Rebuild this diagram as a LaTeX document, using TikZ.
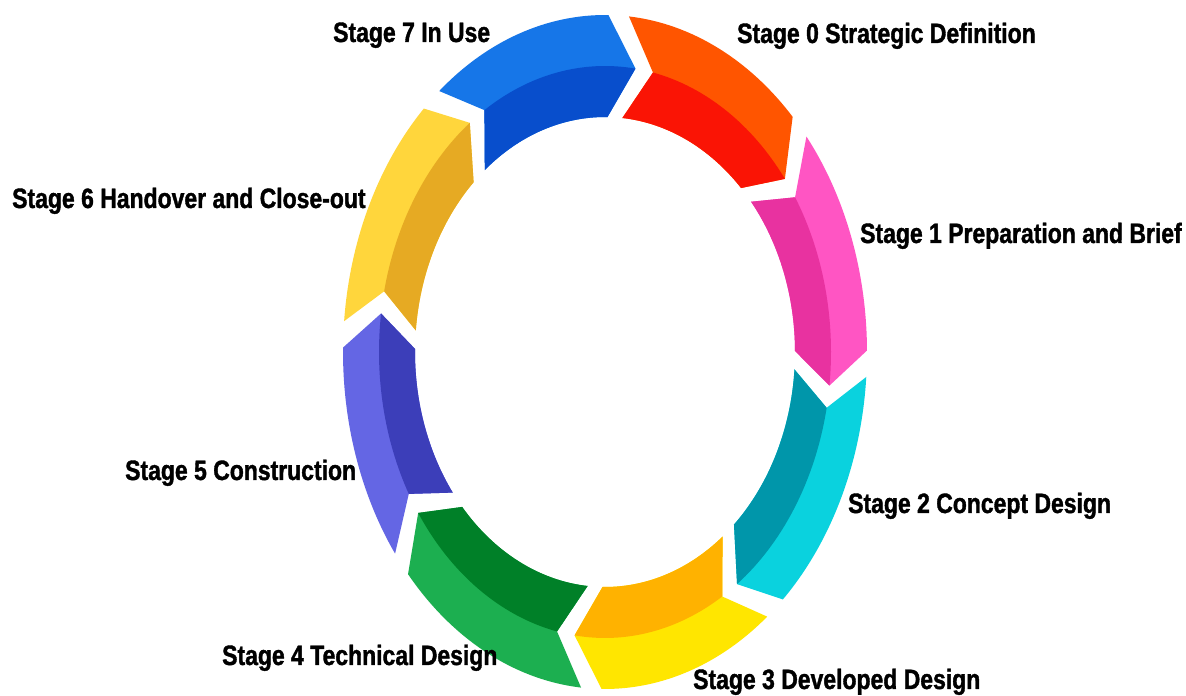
\documentclass[tikz,border=0pt]{standalone}
\usepackage{fontspec}
\setmainfont[FakeStretch=0.82, BoldFeatures={FakeBold=1.3}]{Liberation Sans}
\definecolor{blueL}{RGB}{22,118,232}
\definecolor{blueD}{RGB}{8,78,204}
\definecolor{redL}{RGB}{255,85,0}
\definecolor{redD}{RGB}{250,20,5}
\definecolor{pinkL}{RGB}{255,85,195}
\definecolor{pinkD}{RGB}{232,50,160}
\definecolor{cyanL}{RGB}{10,210,222}
\definecolor{cyanD}{RGB}{0,150,170}
\definecolor{yelL}{RGB}{255,230,0}
\definecolor{yelD}{RGB}{255,178,0}
\definecolor{greenL}{RGB}{28,175,80}
\definecolor{greenD}{RGB}{0,128,40}
\definecolor{purL}{RGB}{100,102,228}
\definecolor{purD}{RGB}{60,62,185}
\definecolor{goldL}{RGB}{255,214,60}
\definecolor{goldD}{RGB}{230,170,35}
\def\rcx{605}\def\rcy{344}
\newcommand\ringseg[4]{%
 \pgfmathsetmacro\segTa{#1-2.25+7}%
 \pgfmathsetmacro\segTn{#1-2.25}%
 \pgfmathsetmacro\segHc{#2+2.25+7}%
 \pgfmathsetmacro\segHt{#2+2.25}%
 \fill[#3] ({\rcx+262*cos(\segTa)},{\rcy+337*sin(\segTa)})
   arc[start angle=\segTa, end angle=\segHc, x radius=262, y radius=337]
   -- ({\rcx+226*cos(\segHt)},{\rcy+286*sin(\segHt)})
   -- ({\rcx+190*cos(\segHc)},{\rcy+235*sin(\segHc)})
   arc[start angle=\segHc, end angle=\segTa, x radius=190, y radius=235]
   -- ({\rcx+226*cos(\segTn)},{\rcy+286*sin(\segTn)}) -- cycle;
 \fill[#4] ({\rcx+226*cos(\segTn)},{\rcy+286*sin(\segTn)})
   arc[start angle=\segTn, end angle=\segHt, x radius=226, y radius=286]
   -- ({\rcx+190*cos(\segHc)},{\rcy+235*sin(\segHc)})
   arc[start angle=\segHc, end angle=\segTa, x radius=190, y radius=235]
   -- cycle;
}
\begin{document}
\begin{tikzpicture}[x=1pt,y=1pt,
  lbl/.style={anchor=base west, inner sep=0pt, font=\fontsize{28}{30}\selectfont\bfseries}]
\useasboundingbox (0,0) rectangle (1186,696);
\fill[white] (0,0) rectangle (1186,696);
\ringseg{124.5}{80}{blueL}{blueD}
\ringseg{80}{35}{redL}{redD}
\ringseg{35}{-9}{pinkL}{pinkD}
\ringseg{-9}{-56.5}{cyanL}{cyanD}
\ringseg{-56.5}{-100}{yelL}{yelD}
\ringseg{-100}{-148}{greenL}{greenD}
\ringseg{212}{170}{purL}{purD}
\ringseg{170}{124.5}{goldL}{goldD}
\node[lbl] (s7) at (333,654) {Stage 7 In Use};
\node[lbl] (s0) at (737,653) {Stage 0 Strategic Definition};
\node[lbl] (s1) at (860,453) {Stage 1 Preparation and Brief};
\node[lbl] (s6) at (12,488) {Stage 6 Handover and Close-out};
\node[lbl] (s5) at (125,216) {Stage 5 Construction};
\node[lbl] (s2) at (848,183) {Stage 2 Concept Design};
\node[lbl] (s4) at (222,31) {Stage 4 Technical Design};
\node[lbl] (s3) at (693,7) {Stage 3 Developed Design};
\end{tikzpicture}
\end{document}
